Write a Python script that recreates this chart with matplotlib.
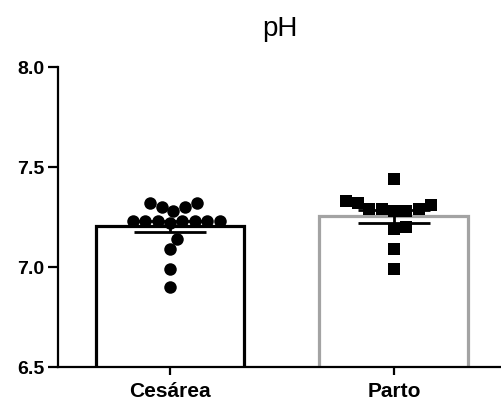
import numpy as np
import matplotlib
matplotlib.use("Agg")
from matplotlib import pyplot as plt

plt.rcParams['font.family'] = ['Liberation Sans', 'DejaVu Sans']

groups = ["Cesárea", "Parto"]
cesarea_ph = [7.30, 7.23, 7.23, 7.23, 7.32, 7.32, 7.23, 7.22, 7.23, 7.23,
              7.23, 7.28, 7.30, 7.14, 7.09, 6.99, 6.90]
parto_ph = [7.44, 7.32, 7.29, 7.28, 7.29, 7.20, 7.29, 7.19, 7.28, 7.31,
            7.33, 7.09, 6.99]
y_ticks = [6.5, 7.0, 7.5, 8.0]

W, H = 501, 407
fig = plt.figure(figsize=(W / 100, H / 100), dpi=100)
ax = fig.add_axes([58 / W, 1 - 367 / H, (W - 58) / W, 300 / H])
ax.set_xlim(-0.5, 1.478)
ax.set_ylim(6.5, 8.0)

# pixels per data unit, used to lay out the swarm without overlaps
px_x = (W - 58) / (1.478 + 0.5)
px_y = 300 / 1.5
diam = 12.5


def swarm_offsets(values):
    # simple beeswarm: place points in value order, nearest to centre without overlap
    order = np.argsort(values)
    placed = []
    offs = np.zeros(len(values))
    for i in order:
        y = values[i] * px_y
        cands = [0.0]
        for (px, py) in placed:
            dy = y - py
            if abs(dy) < diam:
                dx = np.sqrt(diam ** 2 - dy ** 2)
                cands += [px + dx, px - dx]
        cands = sorted(cands, key=abs)
        for c in cands:
            ok = all((c - px) ** 2 + (y - py) ** 2 >= diam ** 2 - 1e-6 for px, py in placed)
            if ok:
                break
        placed.append((c, y))
        offs[i] = c / px_x
    return offs


edge_colors = ["black", "#a3a3a3"]
markers = ["o", "s"]
for i, vals in enumerate([cesarea_ph, parto_ph]):
    vals = np.array(vals)
    m = vals.mean()
    sem = vals.std(ddof=1) / np.sqrt(len(vals))
    ax.bar(i, m, width=0.665, color="white", edgecolor=edge_colors[i], linewidth=2.3, zorder=1)
    ax.errorbar(i, m, yerr=sem, color="black", capsize=26, capthick=2, elinewidth=2, zorder=2)
    ax.scatter(i + swarm_offsets(vals), vals, s=(diam * 0.72) ** 2 * (0.8 if markers[i] == "s" else 1),
               marker=markers[i], color="black", zorder=3, linewidths=0)

ax.spines['top'].set_visible(False)
ax.spines['right'].set_visible(False)
ax.spines['left'].set_linewidth(1.6)
ax.spines['bottom'].set_linewidth(1.6)
ax.set_yticks(y_ticks)
ax.set_yticklabels([f"{t:.1f}" for t in y_ticks], fontsize=14, fontweight='bold')
ax.set_xticks([0, 1])
ax.set_xticklabels(groups, fontsize=15, fontweight='bold')
ax.tick_params(axis='y', length=7, width=1.6, pad=3)
ax.tick_params(axis='x', length=6, width=1.6, pad=5)
ax.set_title("pH", fontsize=20, pad=22)

fig.savefig("out.png", dpi=100)
